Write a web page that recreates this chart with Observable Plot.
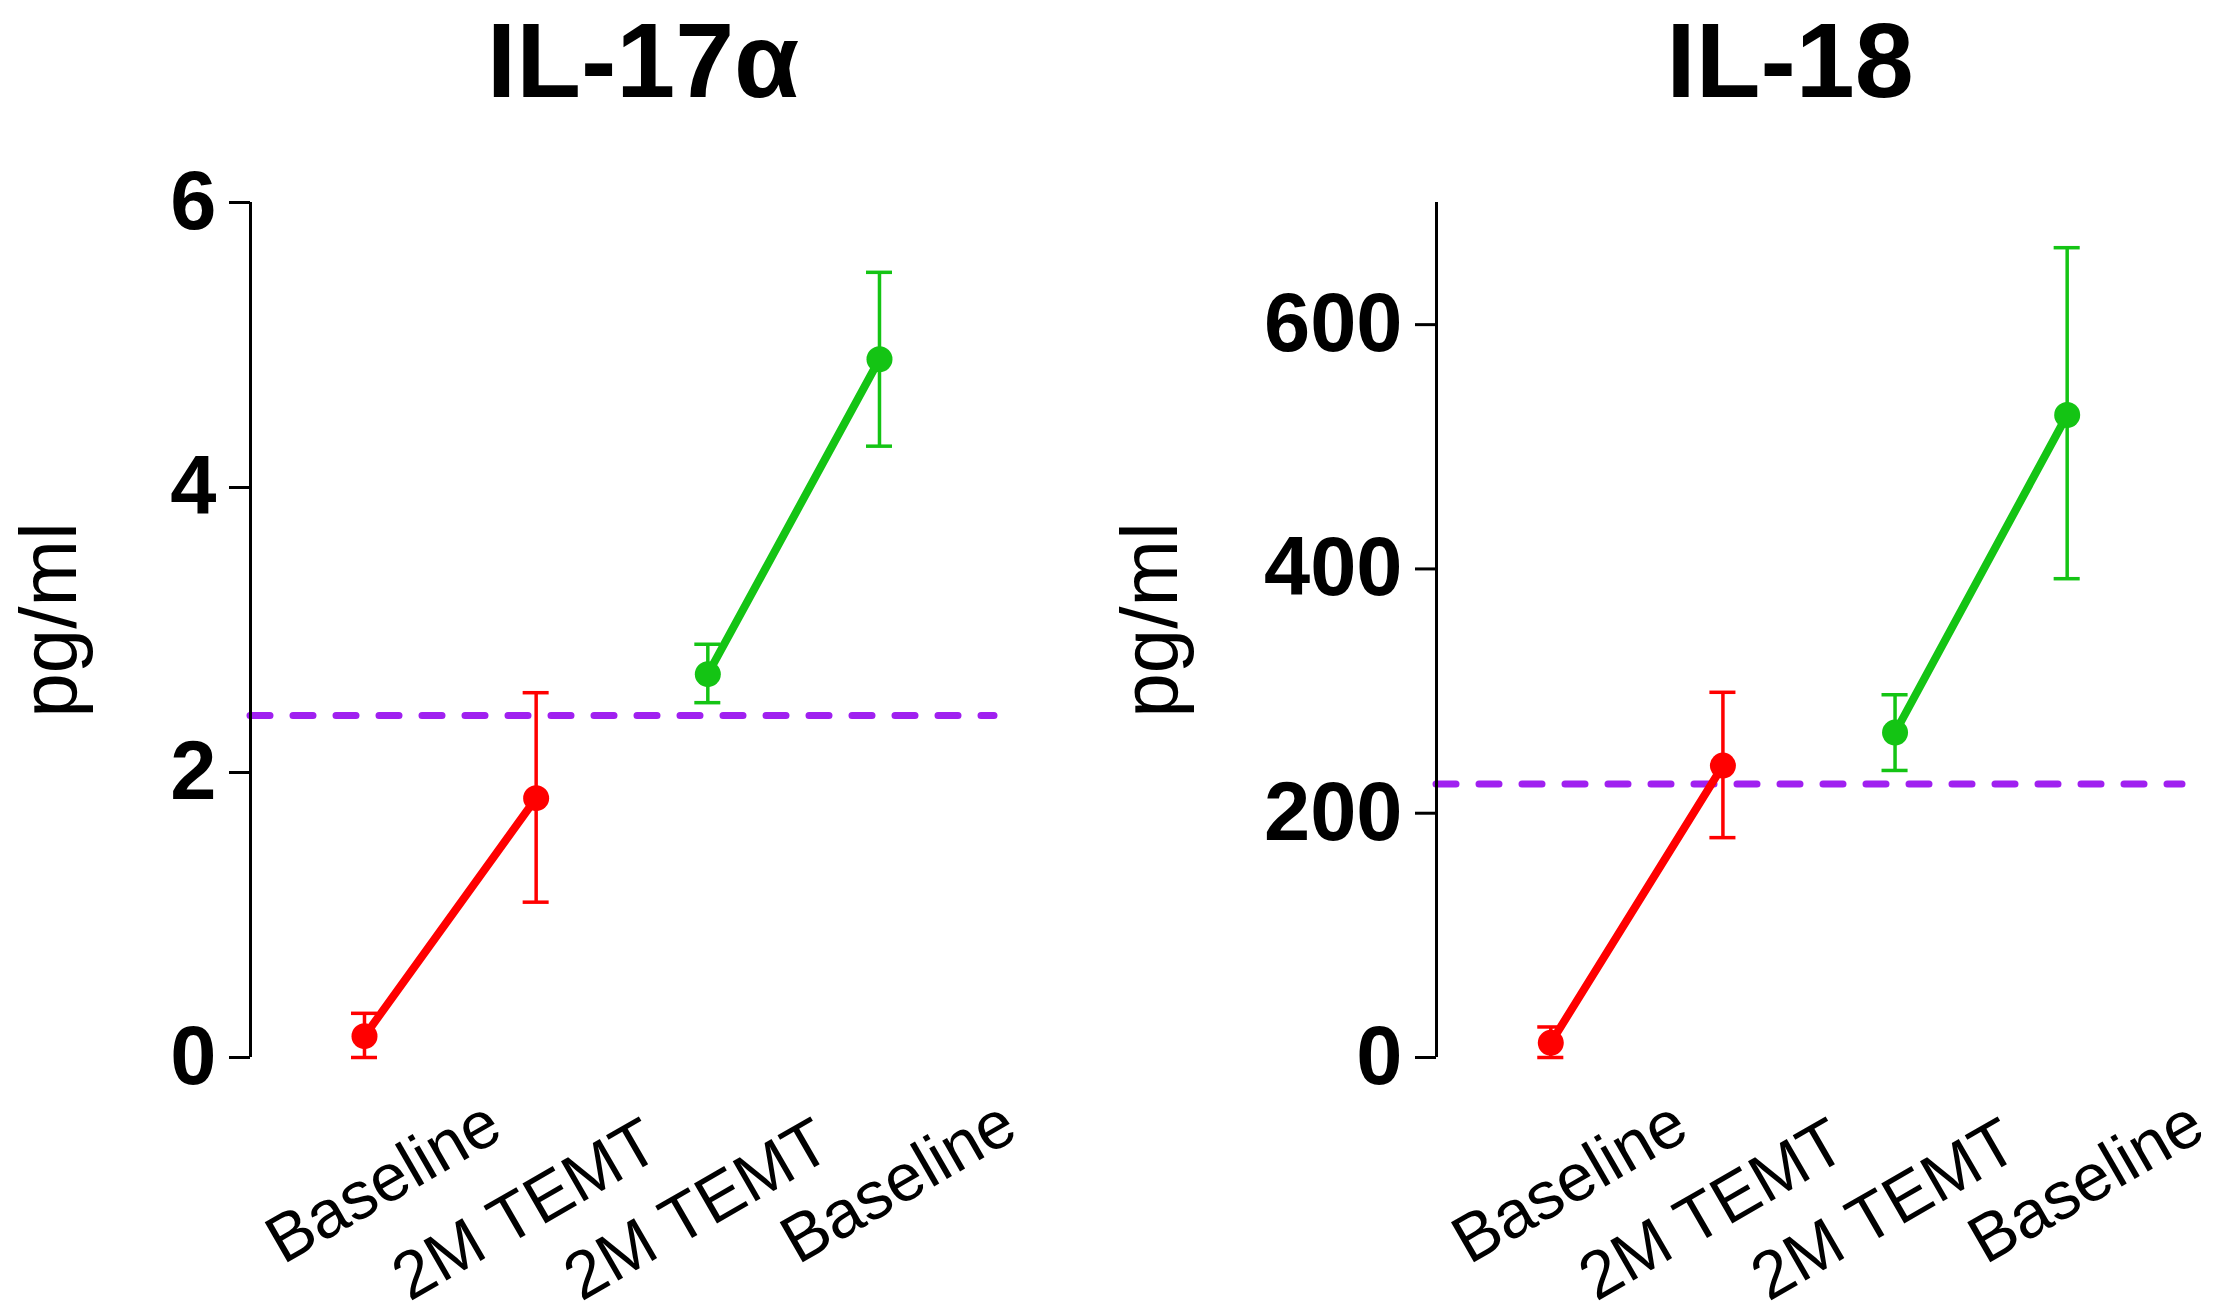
<!DOCTYPE html>
<html>
<head>
<meta charset="utf-8">
<script src="https://cdn.jsdelivr.net/npm/d3@7"></script>
<script src="https://cdn.jsdelivr.net/npm/@observablehq/plot@0.6"></script>
<style>
  html, body { margin: 0; padding: 0; background: #fff; }
  #root { display: flex; width: 2217px; height: 1315px; overflow: hidden; font-family: "Liberation Sans", Arial, sans-serif; }
  .panel { position: relative; padding-top: 160px; height: 1155px; }
  .title { position: absolute; top: 7px; width: 1000px; text-align: center; font-size: 106px; line-height: 106px; font-weight: bold; color: #000; white-space: nowrap; }
  svg { display: block; }
</style>
</head>
<body>
<div id="root"></div>
<script>
// ---- data ----
const categories = ["Baseline", "2M TEMT", "2M TEMT", "Baseline"];
const xPos = [1, 2, 3, 4];
const series = ["red", "red", "green", "green"];

const il17Mean = [0.15, 1.82, 2.69, 4.90];
const il17Lo   = [0.00, 1.09, 2.49, 4.29];
const il17Hi   = [0.31, 2.56, 2.90, 5.51];
const il17Ref  = 2.40;
const il17Ticks = [0, 2, 4, 6];
const il17Domain = [0, 6];

const il18Mean = [12, 239, 266, 526];
const il18Lo   = [0, 180, 235, 392];
const il18Hi   = [25, 299, 297, 663];
const il18Ref  = 224;
const il18Ticks = [0, 200, 400, 600];
const il18Domain = [0, 700];

const xDomain = [0.336, 4.67];
const colors = {red: "#ff0000", green: "#14c414"};
const refColor = "#a020f0";
const capHalf = 0.0757; // cap half-width in x units

function makePanel({title, mean, lo, hi, ref, ticks, domain, width, marginLeft, marginRight, labelDx, titleCenter}) {
  const data = xPos.map((x, i) => ({x, cat: categories[i], s: series[i], m: mean[i], lo: lo[i], hi: hi[i]}));
  const font = "Liberation Sans, Arial, sans-serif";
  const svg = Plot.plot({
    width,
    height: 1155,
    marginTop: 42,
    marginBottom: 258,
    marginLeft,
    marginRight,
    style: {fontFamily: font, background: "white", color: "black", overflow: "visible"},
    x: {domain: xDomain, axis: null},
    y: {domain, axis: null},
    marks: [
      Plot.ruleY([ref], {stroke: refColor, strokeWidth: 7, strokeDasharray: "20,23", strokeLinecap: "round"}),
      Plot.ruleX([xDomain[0]], {stroke: "black", strokeWidth: 3}),
      Plot.axisY({ticks, tickSize: 21, tickPadding: 13, fontSize: 83, fontWeight: "bold", label: null, strokeWidth: 3, tickFormat: d => String(d)}),
      Plot.ruleX(data, {x: "x", y1: "lo", y2: "hi", stroke: d => colors[d.s], strokeWidth: 3.5}),
      Plot.ruleY(data, {y: "lo", x1: d => d.x - capHalf, x2: d => d.x + capHalf, stroke: d => colors[d.s], strokeWidth: 3.5}),
      Plot.ruleY(data, {y: "hi", x1: d => d.x - capHalf, x2: d => d.x + capHalf, stroke: d => colors[d.s], strokeWidth: 3.5}),
      Plot.line(data, {x: "x", y: "m", z: "s", stroke: d => colors[d.s], strokeWidth: 8}),
      Plot.dot(data, {x: "x", y: "m", r: 13, fill: d => colors[d.s], stroke: "none"}),
      Plot.text(data, {filter: d => d.cat === "Baseline", x: "x", text: "cat", frameAnchor: "bottom", rotate: -30, textAnchor: "end", lineAnchor: "bottom", dx: 141, dy: 79, fontSize: 67, fill: "black"}),
      Plot.text(data, {filter: d => d.cat !== "Baseline", x: "x", text: "cat", frameAnchor: "bottom", rotate: -30, textAnchor: "end", lineAnchor: "bottom", dx: 127, dy: 98, fontSize: 67, fill: "black"}),
      Plot.text(["pg/ml"], {frameAnchor: "left", rotate: -90, textAnchor: "middle", lineAnchor: "bottom", dx: labelDx, dy: -10, fontSize: 80, fill: "black"})
    ]
  });
  const panel = document.createElement("div");
  panel.className = "panel";
  panel.style.width = width + "px";
  const t = document.createElement("div");
  t.className = "title";
  t.textContent = title;
  t.style.left = (titleCenter - 500) + "px";
  panel.appendChild(t);
  panel.appendChild(svg);
  return panel;
}

const root = document.getElementById("root");
root.appendChild(makePanel({title: "IL-17\u03b1", mean: il17Mean, lo: il17Lo, hi: il17Hi, ref: il17Ref, ticks: il17Ticks, domain: il17Domain, width: 1108, marginLeft: 250, marginRight: 114, labelDx: -175, titleCenter: 643}));
root.appendChild(makePanel({title: "IL-18", mean: il18Mean, lo: il18Lo, hi: il18Hi, ref: il18Ref, ticks: il18Ticks, domain: il18Domain, width: 1109, marginLeft: 328, marginRight: 35, labelDx: -260, titleCenter: 682}));
</script>
</body>
</html>
